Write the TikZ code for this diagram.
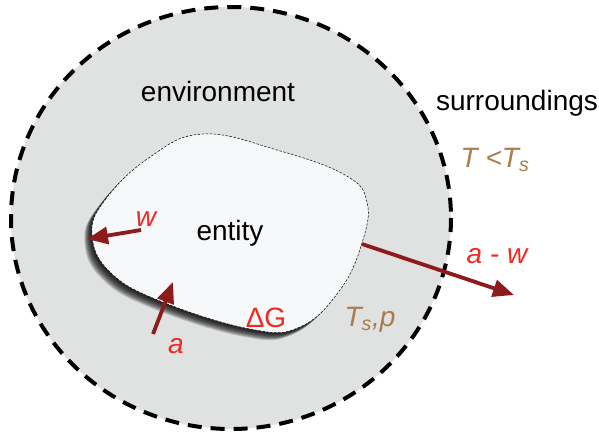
\documentclass[tikz,border=0pt]{standalone}
\usepackage{fontspec}
\setmainfont{Liberation Sans}
\usepackage{xcolor}
\usetikzlibrary{arrows.meta,positioning}
\definecolor{EnvGrey}{HTML}{E0E1E1}
\definecolor{EntWhite}{HTML}{F7F8FA}
\definecolor{FlowRed}{HTML}{8E1B1B}
\definecolor{LabelRed}{HTML}{EE2A24}
\definecolor{LabelBrown}{HTML}{A97C4B}
\tikzset{
  bigtext/.style={font=\fontsize{28}{32}\selectfont,inner sep=0pt},
  redlabel/.style={bigtext,text=LabelRed,font=\fontsize{28}{32}\selectfont\itshape},
  brownlabel/.style={bigtext,text=LabelBrown,font=\fontsize{28}{32}\selectfont\itshape},
  flowarrow/.style={-{Triangle[length=21pt,width=17pt]},line width=3.8pt,draw=FlowRed},
  envborder/.style={draw=black,line width=4pt,dash pattern=on 14pt off 9pt},
  entborder/.style={draw=black,line width=0.5pt,dash pattern=on 2.5pt off 1.5pt}
}
\def\entityblob{plot[smooth cycle,tension=0.7] coordinates {(92,235) (105,200) (150,157) (203,134) (277,150) (345,175) (367,202) (362,243) (340,290) (300,327) (250,329) (160,301) (110,272)}}
\begin{document}
\begin{tikzpicture}[x=1pt,y=-1pt]
\useasboundingbox (0,0) rectangle (599,433);
% environment
\fill[EnvGrey] (231,218) ellipse [x radius=220,y radius=211];
\draw[envborder] (231,218) ellipse [x radius=220,y radius=211];
% shadow of the entity
\foreach \s in {10,9,...,1}
  \fill[black,opacity=0.16] [shift={(-0.75*\s,0.75*\s)}] \entityblob;
% entity
\fill[EntWhite] \entityblob;
\draw[entborder] \entityblob;
% labels
\node[bigtext] (env) at (218,91) {environment};
\node[bigtext] (surr) at (517,103) {surroundings};
\node[brownlabel] (tcold) at (495,160) {T <T\textsubscript{s}};
\node[bigtext] (ent) at (230,233) {entity};
\node[redlabel] (wlab) at (146,219) {w};
\node[redlabel] (alab) at (176,346) {a};
\node[bigtext,text=LabelRed] (dG) at (266,318) {ΔG};
\node[brownlabel] (tsp) at (370,320) {T\textsubscript{s},p};
\node[redlabel] (awlab) at (497,256) {a - w};
% flows
\coordinate (wtail) at (141,230);
\coordinate (wtip) at (87,239);
\coordinate (atail) at (153,334);
\coordinate (atip) at (173,282);
\coordinate (awtail) at (362,244);
\coordinate (awtip) at (514,295);
\draw[flowarrow] (wtail) -- (wtip);
\draw[flowarrow] (atail) -- (atip);
\draw[flowarrow] (awtail) -- (awtip);
\end{tikzpicture}
\end{document}
